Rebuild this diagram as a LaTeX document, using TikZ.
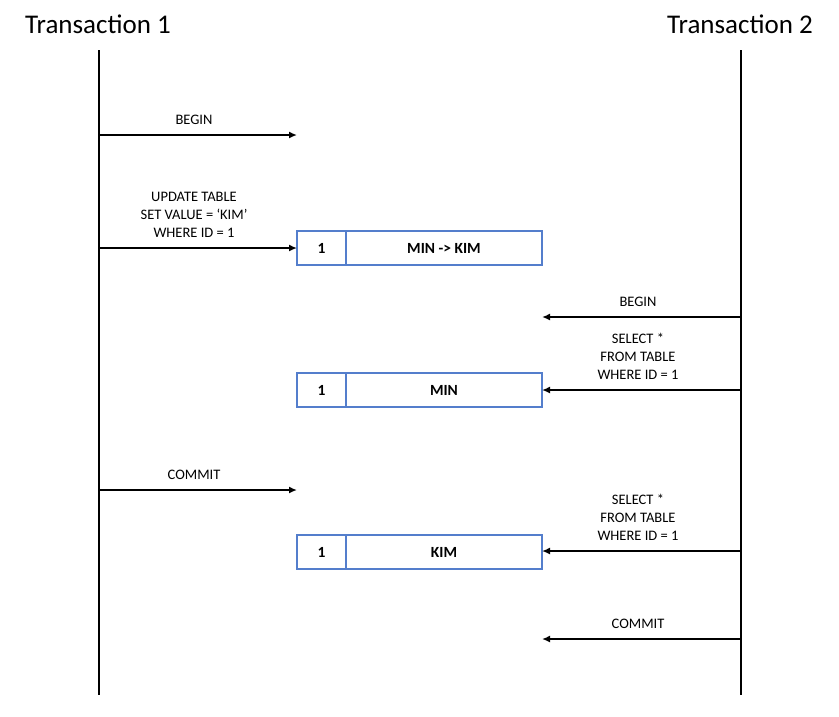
\documentclass[tikz,border=0pt]{standalone}
\usepackage{fontspec}
\setmainfont{Carlito}
\usetikzlibrary{arrows.meta}
\definecolor{bleucase}{RGB}{84,126,204}
\tikzstyle{titre} = [inner sep=0pt, anchor=base, font=\fontsize{27}{32}\selectfont]
\tikzstyle{etiquette} = [inner sep=0pt, anchor=south, align=center, font=\fontsize{14.5}{18}\selectfont]
\tikzstyle{vie} = [line width=2.6pt]
\tikzstyle{fleche} = [-{Latex[length=8pt,width=7pt]}, line width=1.6pt]
\tikzstyle{case} = [rectangle, draw=bleucase, line width=1.3pt, minimum height=34pt, inner sep=0pt, outer sep=0pt, anchor=north west, text centered, font=\fontsize{15.5}{18}\selectfont\bfseries]

\begin{document}
\begin{tikzpicture}[x=1pt, y=-1pt]

        \useasboundingbox (0,0) rectangle (839,716);

        % lignes de vie
        \node (T1) [titre] at (98,33) {Transaction 1};
        \node (T2) [titre] at (740,33) {Transaction 2};
        \coordinate (T1h) at (99,50);
        \coordinate (T1b) at (99,695);
        \coordinate (T2h) at (741,50);
        \coordinate (T2b) at (741,695);
        \draw[vie] (T1h) -- (T1b);
        \draw[vie] (T2h) -- (T2b);

        % tables
        \node (I1) [case, minimum width=49pt] at (297,231) {1};
        \node (V1) [case, minimum width=196pt] at (346,231) {MIN -> KIM};
        \node (I2) [case, minimum width=49pt] at (297,373) {1};
        \node (V2) [case, minimum width=196pt] at (346,373) {MIN};
        \node (I3) [case, minimum width=49pt] at (297,535) {1};
        \node (V3) [case, minimum width=196pt] at (346,535) {KIM};
        \draw[bleucase, line width=2.4pt] (I1.south west) -- (V1.south east);
        \draw[bleucase, line width=2.4pt] (I2.south west) -- (V2.south east);
        \draw[bleucase, line width=2.4pt] (I3.south west) -- (V3.south east);

        % Transaction 1
        \coordinate (a1) at (99,135);
        \coordinate (b1) at (297,135);
        \draw[fleche] (a1) -- (b1);
        \node (e1) [etiquette] at (194,125) {BEGIN};

        \coordinate (a2) at (99,248);
        \draw[fleche] (a2) -- (a2 -| I1.west);
        \node (e2) [etiquette] at (194,238) {UPDATE TABLE\\SET VALUE = `KIM'\\WHERE ID = 1};

        \coordinate (a5) at (99,490);
        \coordinate (b5) at (297,490);
        \draw[fleche] (a5) -- (b5);
        \node (e5) [etiquette] at (194,480) {COMMIT};

        % Transaction 2
        \coordinate (a3) at (741,317);
        \coordinate (b3) at (542,317);
        \draw[fleche] (a3) -- (b3);
        \node (e3) [etiquette] at (638,307) {BEGIN};

        \coordinate (a4) at (741,390);
        \draw[fleche] (a4) -- (a4 -| V2.east);
        \node (e4) [etiquette] at (638,380) {SELECT *\\FROM TABLE\\WHERE ID = 1};

        \coordinate (a6) at (741,551);
        \draw[fleche] (a6) -- (a6 -| V3.east);
        \node (e6) [etiquette] at (638,541) {SELECT *\\FROM TABLE\\WHERE ID = 1};

        \coordinate (a7) at (741,639);
        \coordinate (b7) at (542,639);
        \draw[fleche] (a7) -- (b7);
        \node (e7) [etiquette] at (638,629) {COMMIT};

    \end{tikzpicture}
\end{document}
